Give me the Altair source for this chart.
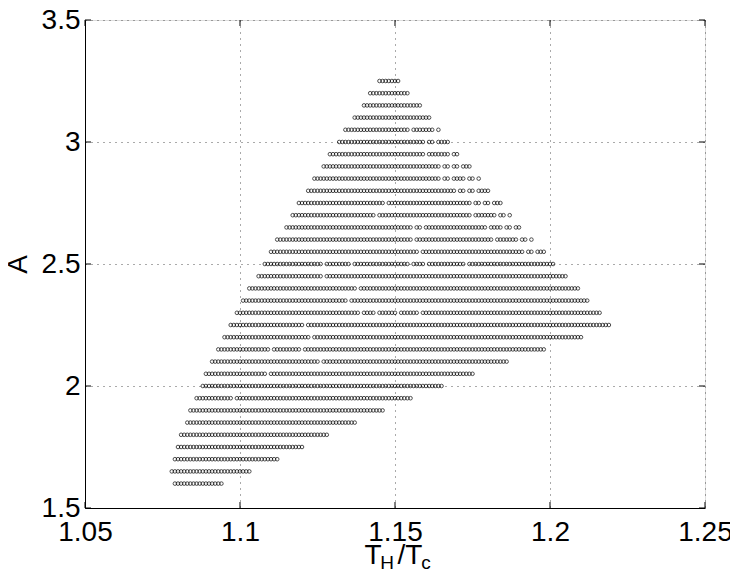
import altair as alt
import pandas as pd

# ---- data ------------------------------------------------------------
# Each row of the scatter sits at one value of A; along T_H/T_c the points
# lie on a grid of step 0.001.  Each row is stored as runs (first, last).
A_rows = [3.25, 3.20, 3.15, 3.10, 3.05, 3.00, 2.95, 2.90, 2.85, 2.80,
          2.75, 2.70, 2.65, 2.60, 2.55, 2.50, 2.45, 2.40, 2.35, 2.30,
          2.25, 2.20, 2.15, 2.10, 2.05, 2.00, 1.95, 1.90, 1.85, 1.80,
          1.75, 1.70, 1.65, 1.60]

row_runs = [
    [(1.145, 1.151)],
    [(1.142, 1.154)],
    [(1.140, 1.158)],
    [(1.137, 1.161)],
    [(1.134, 1.154), (1.156, 1.162), (1.164, 1.164)],
    [(1.132, 1.159), (1.161, 1.162), (1.164, 1.167)],
    [(1.129, 1.159), (1.161, 1.167), (1.169, 1.170)],
    [(1.127, 1.164), (1.166, 1.167), (1.169, 1.170), (1.172, 1.174)],
    [(1.124, 1.164), (1.166, 1.167), (1.169, 1.172), (1.174, 1.175), (1.177, 1.177)],
    [(1.122, 1.169), (1.171, 1.172), (1.174, 1.175), (1.177, 1.180)],
    [(1.119, 1.146), (1.148, 1.174), (1.176, 1.177), (1.179, 1.180), (1.182, 1.184)],
    [(1.117, 1.143), (1.145, 1.174), (1.176, 1.182), (1.184, 1.185), (1.187, 1.187)],
    [(1.115, 1.155), (1.157, 1.158), (1.160, 1.179), (1.181, 1.184), (1.186, 1.187), (1.189, 1.190)],
    [(1.112, 1.155), (1.157, 1.181), (1.183, 1.189), (1.191, 1.192), (1.194, 1.194)],
    [(1.110, 1.157), (1.159, 1.191), (1.193, 1.194), (1.196, 1.198)],
    [(1.108, 1.126), (1.128, 1.135), (1.137, 1.154), (1.156, 1.159), (1.161, 1.172), (1.174, 1.201)],
    [(1.106, 1.126), (1.128, 1.205)],
    [(1.103, 1.137), (1.139, 1.209)],
    [(1.101, 1.134), (1.136, 1.212)],
    [(1.099, 1.138), (1.140, 1.143), (1.145, 1.150), (1.152, 1.157), (1.159, 1.216)],
    [(1.097, 1.120), (1.122, 1.219)],
    [(1.095, 1.122), (1.124, 1.210)],
    [(1.093, 1.109), (1.111, 1.119), (1.121, 1.198)],
    [(1.091, 1.125), (1.127, 1.186)],
    [(1.089, 1.108), (1.110, 1.175)],
    [(1.088, 1.165)],
    [(1.086, 1.097), (1.099, 1.155)],
    [(1.084, 1.146)],
    [(1.083, 1.137)],
    [(1.081, 1.128)],
    [(1.080, 1.120)],
    [(1.079, 1.112)],
    [(1.078, 1.103)],
    [(1.079, 1.094)],
]
X_STEP = 0.001

x_ticks = [1.05, 1.1, 1.15, 1.2, 1.25]
y_ticks = [1.5, 2, 2.5, 3, 3.5]

# ---- build the table -------------------------------------------------
recs = []
for a, runs in zip(A_rows, row_runs):
    for s, e in runs:
        for k in range(round(s / X_STEP), round(e / X_STEP) + 1):
            recs.append({"T": round(k * X_STEP, 3), "A": a})
df = pd.DataFrame(recs)

W, H = 620, 488
FONT = "Liberation Sans"
xs = alt.Scale(domain=[1.05, 1.25], nice=False, zero=False)
ys = alt.Scale(domain=[1.5, 3.5], nice=False, zero=False)

x_axis = alt.Axis(
    values=x_ticks, format="~g", title=None, ticks=False,
    labelPadding=10, labelFontSize=28, labelFont=FONT, labelColor="black",
    grid=True, gridDash=[1, 5], gridColor="#555", gridWidth=1,
    domainColor="black", domainWidth=1, labelFlush=False)
y_axis = alt.Axis(
    values=y_ticks, format="~g", title="A", ticks=False,
    labelPadding=5, labelFontSize=28, labelFont=FONT, labelColor="black",
    titleFontSize=28, titleFont=FONT, titleFontWeight="normal",
    titleColor="black", titlePadding=9,
    grid=True, gridDash=[1, 5], gridColor="#555", gridWidth=1,
    domainColor="black", domainWidth=1, labelFlush=False)

points = alt.Chart(df).mark_point(
    shape="circle", filled=False, size=13, strokeWidth=1.0, color="#000"
).encode(
    x=alt.X("T:Q", scale=xs, axis=x_axis),
    y=alt.Y("A:Q", scale=ys, axis=y_axis),
)

xt = pd.DataFrame({"T": x_ticks})
yt = pd.DataFrame({"A": y_ticks})
TL = 6
tick_b = alt.Chart(xt).mark_rule(color="black", strokeWidth=1).encode(
    x=alt.X("T:Q", scale=xs, axis=x_axis), y=alt.value(H), y2=alt.value(H - TL))
tick_t = alt.Chart(xt).mark_rule(color="black", strokeWidth=1).encode(
    x=alt.X("T:Q", scale=xs, axis=x_axis), y=alt.value(0), y2=alt.value(TL))
tick_l = alt.Chart(yt).mark_rule(color="black", strokeWidth=1).encode(
    y=alt.Y("A:Q", scale=ys, axis=y_axis), x=alt.value(0), x2=alt.value(TL))
tick_r = alt.Chart(yt).mark_rule(color="black", strokeWidth=1).encode(
    y=alt.Y("A:Q", scale=ys, axis=y_axis), x=alt.value(W), x2=alt.value(W - TL))


# x title: T_H / T_c with subscripts
def piece(txt, px, py, size):
    return alt.Chart(pd.DataFrame({"s": [txt]})).mark_text(
        font=FONT, fontSize=size, color="black", align="center",
        baseline="alphabetic").encode(
        text="s:N", x=alt.value(px), y=alt.value(py))


xtitle = (piece("T", 288, 544, 28) + piece("H", 302, 549, 19)
          + piece("/T", 325, 544, 28) + piece("c", 341, 549, 19))

chart = alt.layer(points, tick_b, tick_t, tick_l, tick_r, xtitle).properties(
    width=W, height=H,
    autosize=alt.AutoSizeParams(type="none"),
    padding={"left": 77, "top": 12, "right": 25, "bottom": 61},
).configure_view(stroke="black", strokeWidth=1).configure(background="white")

chart.save("out.html", embed_options={"renderer": "svg", "actions": False})
